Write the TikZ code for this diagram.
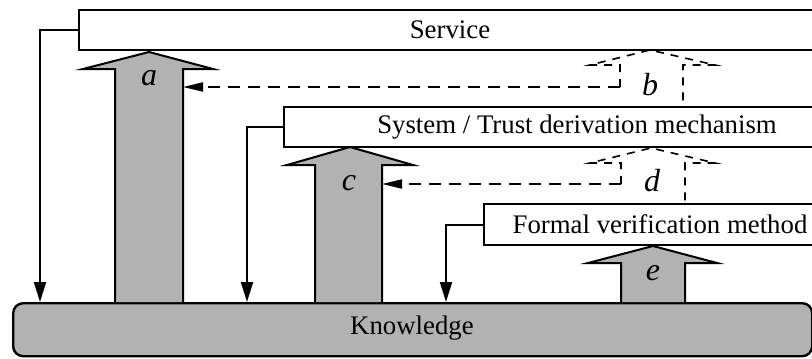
\documentclass[tikz,border=0pt]{standalone}
\usepackage{fontspec}
\setmainfont{Liberation Serif}
\usetikzlibrary{arrows.meta}
\begin{document}
\begin{tikzpicture}[x=1pt,y=-1pt,
  box/.style={draw,line width=2pt,fill=white,inner sep=0pt,anchor=north west},
  knowbox/.style={draw,line width=2.4pt,fill=black!30,rounded corners=10pt,inner sep=0pt,anchor=north west},
  txt/.style={font=\fontsize{26.8}{30}\selectfont,inner sep=0pt},
  letter/.style={font=\fontsize{32}{34}\selectfont\itshape,inner sep=0pt},
  blk/.style={draw,line width=2pt,fill=black!30,line join=miter},
  dblk/.style={draw,line width=1.6pt,dash pattern=on 8pt off 7pt},
  conn/.style={line width=2pt,-{Triangle[length=20pt,width=12pt]}},
  dconn/.style={line width=2pt,dash pattern=on 12pt off 8pt,-{Triangle[length=20pt,width=9pt]}}]
\useasboundingbox (0,0) rectangle (812,359);
\clip (0,0) rectangle (812,359);

% Knowledge base
\node[knowbox,minimum width=799pt,minimum height=53pt] (know) at (12,302) {};
\node[txt] (knowtxt) at (412,328) {Knowledge};

% solid block arrows
\draw[blk] (115,302) -- (115,69) -- (83,69) -- (149,52) -- (213,69) -- (183,69) -- (183,302);
\draw[blk] (315,302) -- (315,165) -- (287,165) -- (350,147) -- (413,165) -- (382,165) -- (382,302);
\draw[blk] (621,302) -- (621,263) -- (588,263) -- (653,246) -- (717,263) -- (685,263) -- (685,302);

% boxes
\node[box,minimum width=745pt,minimum height=40pt] (service) at (78,9) {};
\node[txt] (servicetxt) at (450,30) {Service};
\node[box,minimum width=540pt,minimum height=40pt] (system) at (283,106) {};
\node[txt] (systemtxt) at (577,127) {System / Trust derivation mechanism};
\node[box,minimum width=340pt,minimum height=41pt] (formal) at (483,203) {};
\node[txt] (formaltxt) at (660,224) {Formal verification method};

% dashed block arrows
\draw[dblk] (620,87) -- (620,65) -- (590,65) -- (650,50) -- (715,65) -- (683,65) -- (683,106);
\draw[dblk] (621,184) -- (621,163) -- (590,163) -- (651,148) -- (715,163) -- (685,163) -- (685,203);

% coordinates for connector ends
\coordinate (k1) at (40,302);
\coordinate (k2) at (247,302);
\coordinate (k3) at (446,302);
\coordinate (bcorner) at (620,87);
\coordinate (aside) at (183,87);
\coordinate (dcorner) at (621,184);
\coordinate (cside) at (382,184);

% connectors
\draw[conn] (service.west) -| (k1);
\draw[conn] (system.west) -| (k2);
\draw[conn] (formal.west) -| (k3);
\draw[dconn] (bcorner) -- (aside);
\draw[dconn] (dcorner) -- (cside);

% labels
\node[letter] (la) at (149,78) {a};
\node[letter] (lb) at (650,85) {b};
\node[letter] (lc) at (349,183) {c};
\node[letter] (ld) at (652,181) {d};
\node[letter] (le) at (653,273) {e};
\end{tikzpicture}
\end{document}
